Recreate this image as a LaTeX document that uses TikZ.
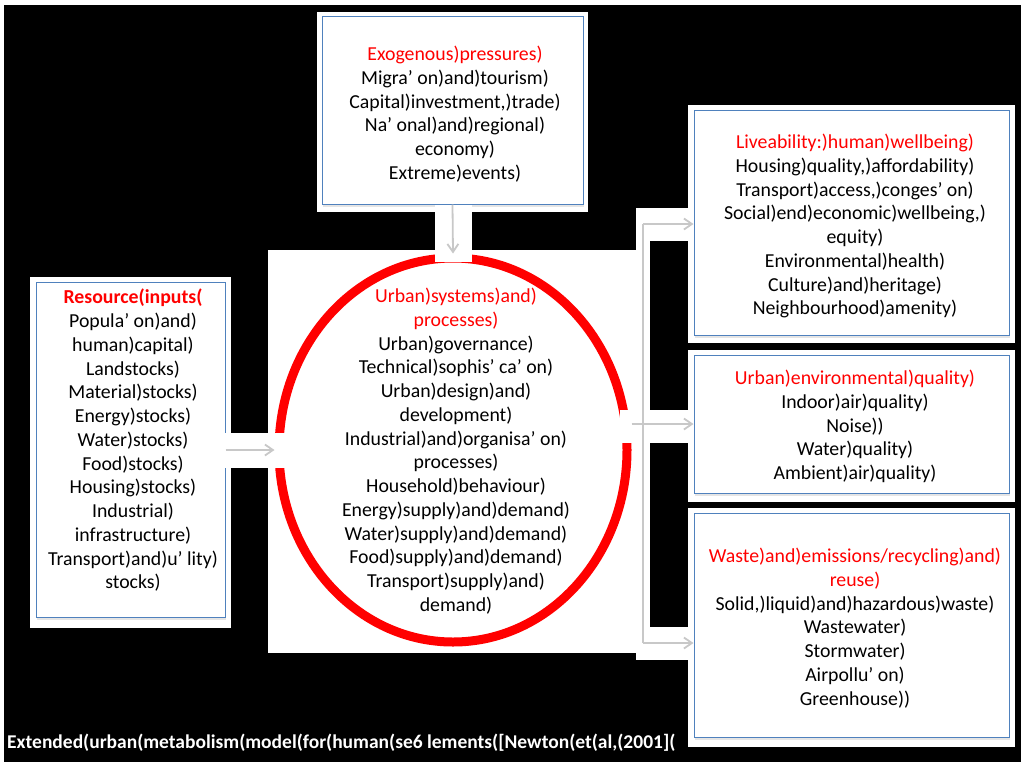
\documentclass[tikz,border=0pt]{standalone}
\usepackage{fontspec}
\setmainfont{Carlito}
\usetikzlibrary{shapes.geometric,arrows.meta,shadows}
\definecolor{boxblue}{RGB}{79,129,189}
\definecolor{flowgray}{RGB}{200,200,200}
\begin{document}
\begin{tikzpicture}[x=1pt,y=-1pt,
  box/.style={draw=boxblue,line width=1pt,fill=white,inner sep=0pt,
    drop shadow={opacity=0.2,shadow xshift=1pt,shadow yshift=-3pt}},
  txt/.style={anchor=north,align=center,inner sep=0pt,font=\fontsize{19.8}{23.75}\selectfont},
  flow/.style={draw=flowgray,line width=1.8pt,-{Straight Barb[length=8pt,width=11pt]}},
  band/.style={fill=white}]
\useasboundingbox (0,0) rectangle (1024,766);
\fill[black] (4,5) rectangle (1021,762);
\fill[white] (268,250) rectangle (637,653);
\node[ellipse,draw=red,line width=9pt,minimum width=348pt,minimum height=384pt,inner sep=0pt] (urb) at (453,450) {};
\fill[white] (317,12) rectangle (588,212);
\fill[white] (30,277) rectangle (231,628);
\fill[white] (688,105) rectangle (1015,343);
\fill[white] (688,350) rectangle (1015,502);
\fill[white] (688,508) rectangle (1015,747);
\node[box,minimum width=261pt,minimum height=188pt] (exo) at (452.5,110) {};
\node[box,minimum width=189pt,minimum height=335pt] (res) at (130.5,449.5) {};
\node[box,minimum width=315pt,minimum height=225pt] (live) at (851.5,222.5) {};
\node[box,minimum width=315pt,minimum height=138pt] (envq) at (851.5,424) {};
\node[box,minimum width=315pt,minimum height=224pt] (waste) at (851.5,625) {};
\fill[band] (435,205) rectangle (472,262);
\fill[band] (225,433) rectangle (287,468);
\fill[band] (620,410) rectangle (694,443);
\fill[band] (636,208) rectangle (650,660);
\fill[band] (636,208) rectangle (694,241);
\fill[band] (636,627) rectangle (694,660);
\coordinate (trunktop) at (643,224);
\coordinate (trunkbot) at (643,643);
\draw[flow] (exo.south) -- (urb.north);
\draw[flow] (res.east |- urb.west) -- (urb.west);
\draw[flow] (envq.west -| urb.east) -- (envq.west);
\draw[flow,-] (trunktop) -- (trunkbot);
\draw[flow] (trunktop) -- (trunktop -| live.west);
\draw[flow] (trunkbot) -- (trunkbot -| waste.west);
\node[txt] (exotxt) at (455,46) {\textcolor{red}{Exogenous)pressures)}\\
  Migra' on)and)tourism)\\ Capital)investment,)trade)\\ Na' onal)and)regional)\\
  economy)\\ Extreme)events)};
\node[txt] (restxt) at (133,289) {\textbf{\textcolor{red}{Resource(inputs(}}\\
  Popula' on)and)\\ human)capital)\\ Landstocks)\\ Material)stocks)\\ Energy)stocks)\\
  Water)stocks)\\ Food)stocks)\\ Housing)stocks)\\ Industrial)\\ infrastructure)\\
  Transport)and)u' lity)\\ stocks)};
\node[txt] (urbtxt) at (456,288) {\textcolor{red}{Urban)systems)and)}\\ \textcolor{red}{processes)}\\
  Urban)governance)\\ Technical)sophis' ca' on)\\ Urban)design)and)\\ development)\\
  Industrial)and)organisa' on)\\ processes)\\ Household)behaviour)\\
  Energy)supply)and)demand)\\ Water)supply)and)demand)\\ Food)supply)and)demand)\\
  Transport)supply)and)\\ demand)};
\node[txt] (livetxt) at (855,134) {\textcolor{red}{Liveability:)human)wellbeing)}\\
  Housing)quality,)affordability)\\ Transport)access,)conges' on)\\
  Social)end)economic)wellbeing,)\\ equity)\\ Environmental)health)\\
  Culture)and)heritage)\\ Neighbourhood)amenity)};
\node[txt] (envqtxt) at (855,370) {\textcolor{red}{Urban)environmental)quality)}\\
  Indoor)air)quality)\\ Noise))\\ Water)quality)\\ Ambient)air)quality)};
\node[txt] (wastetxt) at (855,548) {\textcolor{red}{Waste)and)emissions/recycling)and)}\\
  \textcolor{red}{reuse)}\\ Solid,)liquid)and)hazardous)waste)\\ Wastewater)\\ Stormwater)\\
  Airpollu' on)\\ Greenhouse))};
\node[anchor=base west,inner sep=0pt,text=white,font=\bfseries\fontsize{19.5}{23}\selectfont] (cap) at (7,748)
  {Extended(urban(metabolism(model(for(human(se6 lements([Newton(et(al,(2001](};
\end{tikzpicture}
\end{document}
